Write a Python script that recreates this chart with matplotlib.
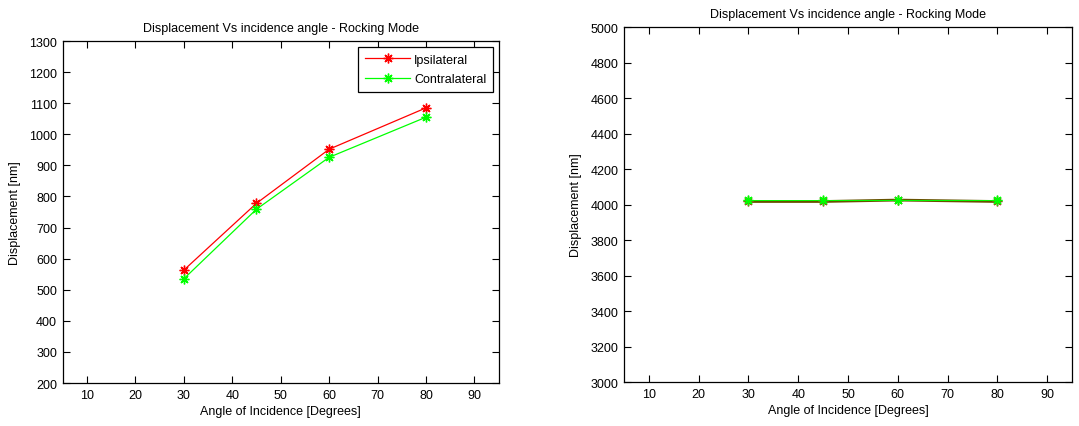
import matplotlib
matplotlib.use("Agg")
import matplotlib.pyplot as plt

plt.rcParams['font.family'] = ['Liberation Sans', 'DejaVu Sans']
plt.rcParams['font.size'] = 9

# Incidence angles (degrees)
angles = [30, 45, 60, 80]

# Left panel: measured displacement (nm)
ipsi_left = [563, 778, 952, 1085]
contra_left = [535, 759, 926, 1055]

# Right panel: displacement (nm)
ipsi_right = [4017, 4017, 4025, 4017]
contra_right = [4025, 4025, 4025, 4025]

title_text = "Displacement Vs incidence angle - Rocking Mode"
xlabel_text = "Angle of Incidence [Degrees]"
ylabel_text = "Displacement [nm]"
xticks = list(range(10, 100, 10))
yticks_left = list(range(200, 1400, 100))
yticks_right = list(range(3000, 5200, 200))

RED = (1, 0, 0)
GREEN = (0, 1, 0)
OLIVE = (0.40, 0.32, 0.0)
ASTERISK = (8, 2, 0)

fig = plt.figure(figsize=(10.79, 4.27), dpi=100)
ax1 = fig.add_axes([0.0581, 0.1007, 0.4041, 0.8009])
ax2 = fig.add_axes([0.5783, 0.1030, 0.4152, 0.8314])


def style(ax, yticks):
    ax.set_xlim(5, 95)
    ax.set_ylim(yticks[0], yticks[-1])
    ax.set_xticks(xticks)
    ax.set_yticks(yticks)
    ax.tick_params(direction='in', length=5, width=0.8, top=True, right=True,
                   labeltop=False, labelright=False, colors='black', pad=4,
                   labelsize=9)
    for sp in ax.spines.values():
        sp.set_linewidth(0.9)
        sp.set_color('black')
    ax.set_title(title_text, fontsize=9, pad=7)
    ax.set_xlabel(xlabel_text, fontsize=9, labelpad=3)
    ax.set_ylabel(ylabel_text, fontsize=9, labelpad=6)


ax1.plot(angles, ipsi_left, color=RED, lw=0.9, marker=ASTERISK, ms=7,
         mew=1.0, label="Ipsilateral")
ax1.plot(angles, contra_left, color=GREEN, lw=0.9, marker=ASTERISK, ms=7,
         mew=1.0, label="Contralateral")
style(ax1, yticks_left)
leg = ax1.legend(loc='upper right', fancybox=False, edgecolor='black',
                 framealpha=1, fontsize=9, handlelength=3.6,
                 borderaxespad=0.45, borderpad=0.55, labelspacing=0.6,
                 handletextpad=0.3)
leg.get_frame().set_linewidth(0.9)

ax2.plot(angles, ipsi_right, color=OLIVE, lw=2.0, marker=ASTERISK,
         ms=7, mew=1.0, mec=(0.6, 0.3, 0.1))
ax2.plot(angles, contra_right, color=GREEN, lw=0.7, marker=ASTERISK, ms=7,
         mew=1.0)
style(ax2, yticks_right)

fig.savefig("out.png", dpi=100, facecolor='white')
